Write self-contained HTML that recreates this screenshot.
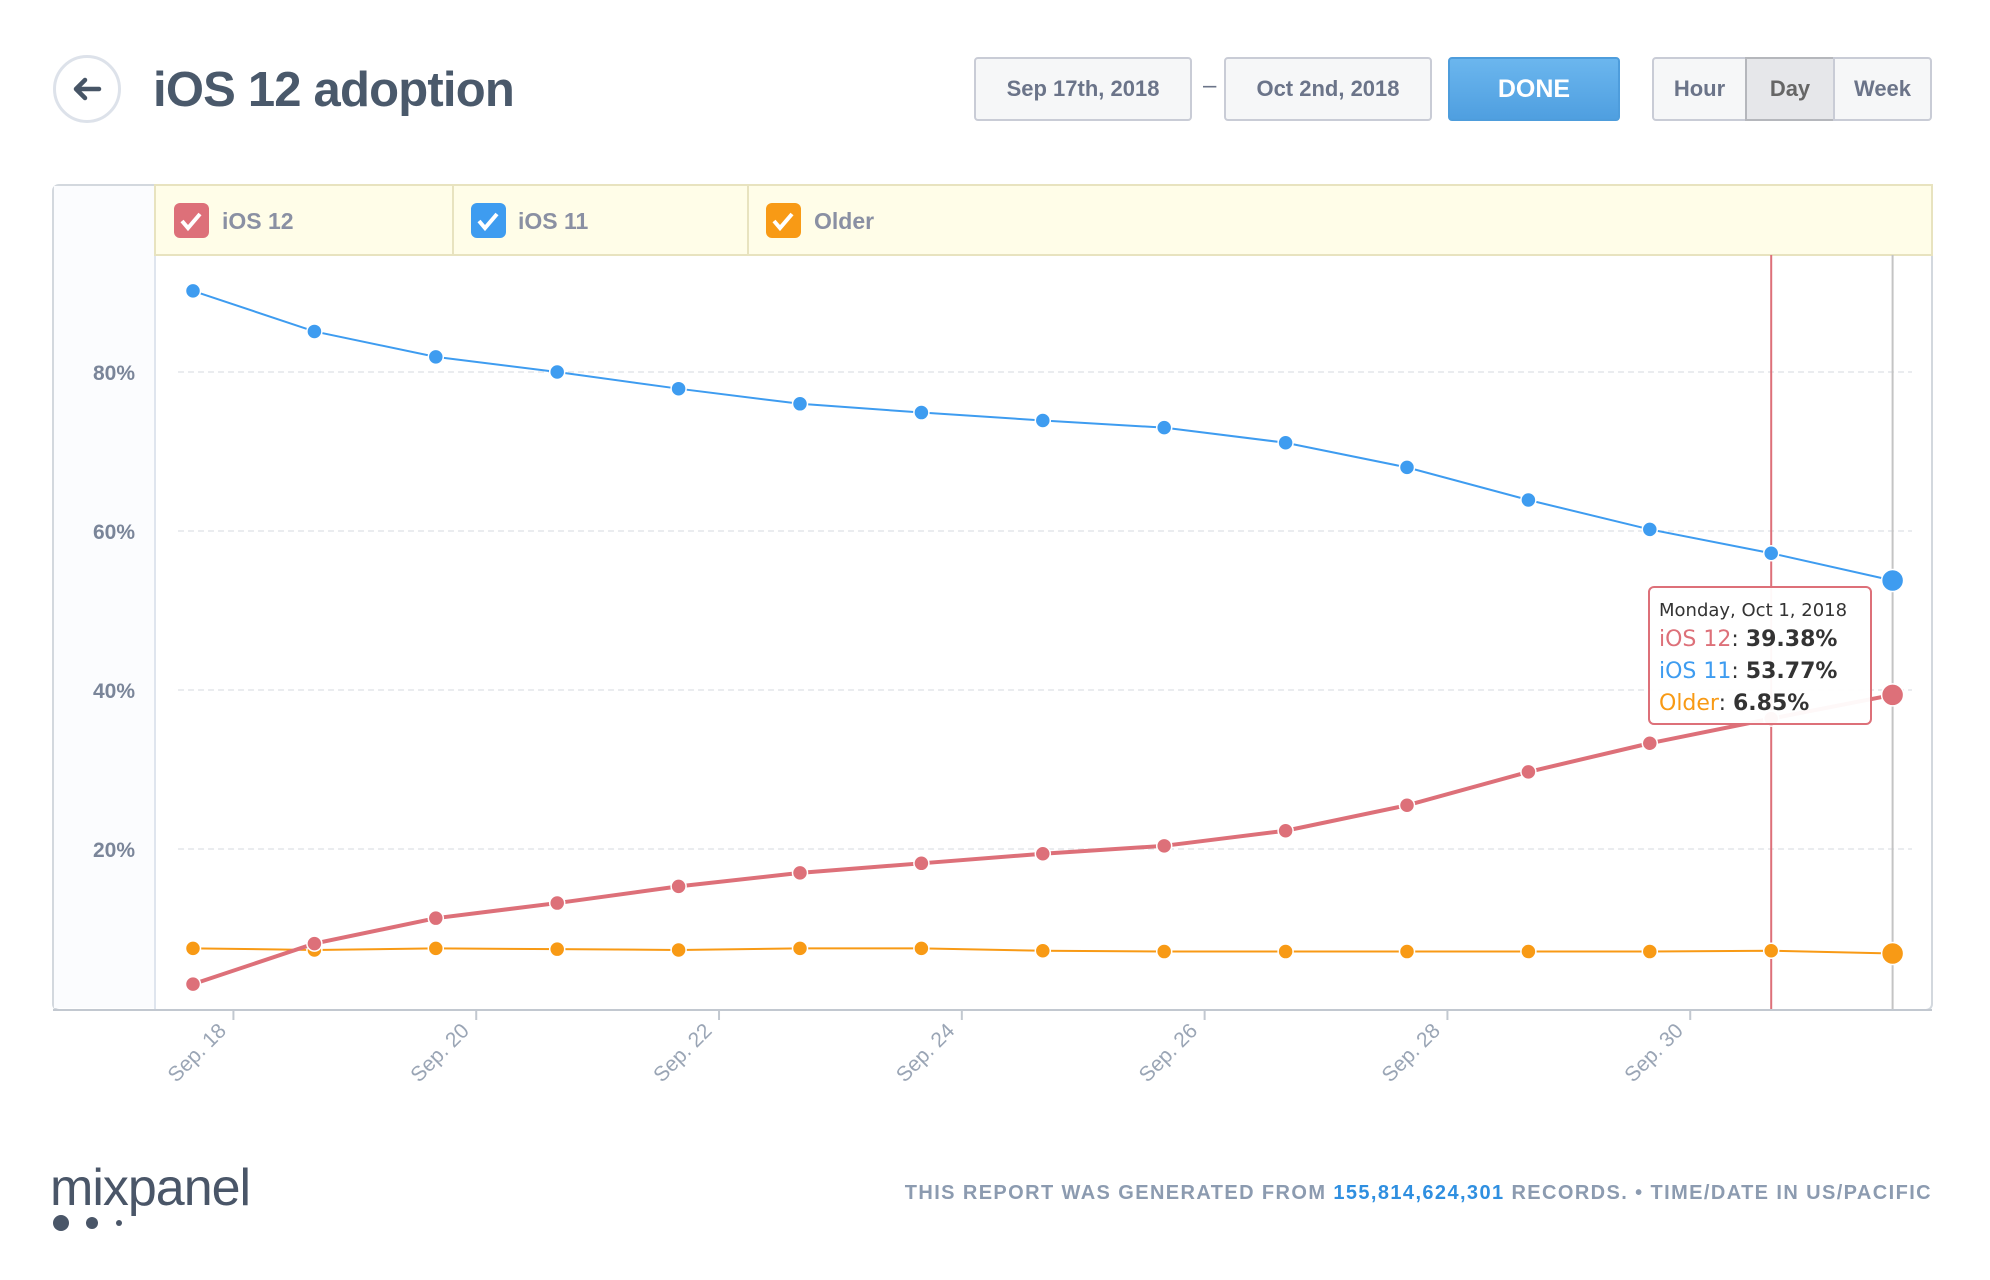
<!DOCTYPE html>
<html><head><meta charset="utf-8">
<style>
body{margin:0;width:1990px;height:1280px;background:#fff;font-family:"Liberation Sans",sans-serif;position:relative;overflow:hidden}
.abs{position:absolute}
.btn{position:absolute;box-sizing:border-box;border:2px solid #c9ccd6;border-radius:4px;background:#f6f7f8;color:#6b7489;font-weight:bold;font-size:22px;display:flex;align-items:center;justify-content:center}
</style></head><body>
<div class="abs" style="left:53px;top:55px;width:68px;height:68px;box-sizing:border-box;border:3px solid #dde2ea;border-radius:50%;display:flex;align-items:center;justify-content:center;">
<svg width="36" height="30" viewBox="0 0 36 30"><path d="M30 15H8M16 6L7 15l9 9" stroke="#475566" stroke-width="4.5" fill="none" stroke-linecap="round" stroke-linejoin="round"/></svg></div>
<div class="abs" style="left:153px;top:62px;font-size:49px;font-weight:bold;color:#4a596b;letter-spacing:-0.8px;">iOS 12 adoption</div>
<div class="btn" style="left:974px;top:57px;width:218px;height:64px;">Sep 17th, 2018</div>
<div class="abs" style="left:1203px;top:72px;font-size:24px;color:#6b7489;">–</div>
<div class="btn" style="left:1224px;top:57px;width:208px;height:64px;">Oct 2nd, 2018</div>
<div class="btn" style="left:1448px;top:57px;width:172px;height:64px;background:linear-gradient(#6bb6ee,#4f9fe0);border-color:#4e9ddc;color:#fff;font-size:25px;">DONE</div>
<div class="btn" style="left:1652px;top:57px;width:95px;height:64px;border-radius:4px 0 0 4px;">Hour</div>
<div class="btn" style="left:1745px;top:57px;width:90px;height:64px;border-radius:0;background:#e6e7ea;border-color:#b5b7bc;color:#666;">Day</div>
<div class="btn" style="left:1833px;top:57px;width:99px;height:64px;border-radius:0 4px 4px 0;">Week</div>

<svg class="abs" style="left:0;top:0" width="1990" height="1280">
<rect x="53" y="185" width="1879" height="825" rx="6" fill="#fff" stroke="#d3d8de" stroke-width="2"/>
<rect x="54" y="186" width="101" height="822" fill="#fbfcfe"/>
<line x1="155" y1="186" x2="155" y2="1010" stroke="#dfe5ee" stroke-width="2"/>
<rect x="155" y="185" width="1777" height="70" fill="#fffde8" stroke="#e8e3bf" stroke-width="2"/>
<line x1="453" y1="185" x2="453" y2="255" stroke="#e8e3bf" stroke-width="2"/>
<line x1="748" y1="185" x2="748" y2="255" stroke="#e8e3bf" stroke-width="2"/>
<g><rect x="174" y="203" width="35" height="35" rx="6" fill="#dd7079"/><path d="M182 221l6 7 12-14" stroke="#fff" stroke-width="4" fill="none"/><text x="222" y="229" font-size="23" font-weight="bold" fill="#8a90a3">iOS 12</text></g>
<g><rect x="471" y="203" width="35" height="35" rx="6" fill="#3e9cf0"/><path d="M479 221l6 7 12-14" stroke="#fff" stroke-width="4" fill="none"/><text x="518" y="229" font-size="23" font-weight="bold" fill="#8a90a3">iOS 11</text></g>
<g><rect x="766" y="203" width="35" height="35" rx="6" fill="#f89a15"/><path d="M774 221l6 7 12-14" stroke="#fff" stroke-width="4" fill="none"/><text x="814" y="229" font-size="23" font-weight="bold" fill="#8a90a3">Older</text></g>
<g id="plot"></g>
</svg>

<div class="abs" style="left:1648px;top:586px;width:224px;height:139px;box-sizing:border-box;border:2px solid #dd7079;border-radius:6px;background:rgba(255,255,255,0.95);padding:10px 0 0 9px;font-family:'DejaVu Sans',sans-serif;color:#333;">
<div style="font-size:18px;line-height:26px">Monday, Oct 1, 2018</div>
<div style="font-size:22px;line-height:32px"><span style="color:#dd7079">iOS 12</span>: <b>39.38%</b></div>
<div style="font-size:22px;line-height:32px"><span style="color:#3e9cf0">iOS 11</span>: <b>53.77%</b></div>
<div style="font-size:22px;line-height:32px"><span style="color:#f89a15">Older</span>: <b>6.85%</b></div>
</div>

<div class="abs" style="left:50px;top:1158px;font-size:52px;color:#4a5668;letter-spacing:-1px;">mixpanel</div>
<svg class="abs" style="left:50px;top:1212px" width="80" height="22"><circle cx="11" cy="11" r="8" fill="#4a5668"/><circle cx="42" cy="11" r="6" fill="#4a5668"/><circle cx="69" cy="11" r="3" fill="#4a5668"/></svg>
<div class="abs" style="right:58px;top:1182px;font-size:20px;color:#8c9bb0;font-weight:bold;letter-spacing:1.4px;">THIS REPORT WAS GENERATED FROM <span style="color:#2f8fe0">155,814,624,301</span> RECORDS. • TIME/DATE IN US/PACIFIC</div>

<script>
const categories=["Sep 17","Sep 18","Sep 19","Sep 20","Sep 21","Sep 22","Sep 23","Sep 24","Sep 25","Sep 26","Sep 27","Sep 28","Sep 29","Sep 30","Oct 1"];
const ios12=[3.0,8.1,11.3,13.2,15.3,17.0,18.2,19.4,20.4,22.3,25.5,29.7,33.3,36.4,39.38];
const ios11=[90.2,85.1,81.9,80.0,77.9,76.0,74.9,73.9,73.0,71.1,68.0,63.9,60.2,57.2,53.77];
const older=[7.5,7.3,7.5,7.4,7.3,7.5,7.5,7.2,7.1,7.1,7.1,7.1,7.1,7.2,6.85];
const yTicks=[20,40,60,80];
const yTickLabels=["20%","40%","60%","80%"];
const xTickDays=[1,3,5,7,9,11,13];
const xTickLabels=["Sep. 18","Sep. 20","Sep. 22","Sep. 24","Sep. 26","Sep. 28","Sep. 30"];
const NS="http://www.w3.org/2000/svg";
const g=document.getElementById('plot');
function x(day){return 193+121.4*(day-0.667);}
function xi(i){return x(i+0.667);}
function y(v){return 1008-v*7.95;}
function mk(tag,a){const e=document.createElementNS(NS,tag);for(const k in a)e.setAttribute(k,a[k]);g.appendChild(e);return e;}
yTicks.forEach((t,i)=>{
 const l=mk('line',{x1:178,x2:1912,y1:y(t),y2:y(t),stroke:'#e3e6ea','stroke-width':1.5,'stroke-dasharray':'6 4'});
 
 
 const tx=mk('text',{x:135,y:y(t)+8,'text-anchor':'end','font-size':21,'font-weight':'bold',fill:'#7a8599'});
 tx.textContent=yTickLabels[i];
 
 
});
const last=categories.length-1;
let hv=mk('line',{x1:xi(last),x2:xi(last),y1:255,y2:1010,stroke:'#c4c4c4','stroke-width':2});


let cv=mk('line',{x1:xi(last-1),x2:xi(last-1),y1:255,y2:1010,stroke:'#dd7079','stroke-width':2});


let ax=mk('line',{x1:53,x2:1932,y1:1010,y2:1010,stroke:'#c2c8d0','stroke-width':2});


xTickDays.forEach((d,i)=>{
 const tk=mk('line',{x1:x(d),x2:x(d),y1:1010,y2:1020,stroke:'#c2c8d0','stroke-width':2});
 
 
 const tx=mk('text',{x:x(d)-6,y:1032,'text-anchor':'end','font-size':21,fill:'#9aa5b5',transform:`rotate(-45 ${x(d)-6} 1032)`});
 tx.textContent=xTickLabels[i];
 
 
});
function series(vals,color,w,name){
 const p=mk('polyline',{points:vals.map((v,i)=>xi(i)+','+y(v)).join(' '),fill:'none',stroke:color,'stroke-width':w});
 
 
 vals.forEach((v,i)=>{
  const c=mk('circle',{cx:xi(i),cy:y(v),r:i===last?11:7.5,fill:color,stroke:'#fff','stroke-width':1.5});
  
  
 });
}
series(older,'#f89a15',2,'older');
series(ios12,'#dd7079',4,'ios12');
series(ios11,'#3e9cf0',2,'ios11');
</script>
</body></html>
